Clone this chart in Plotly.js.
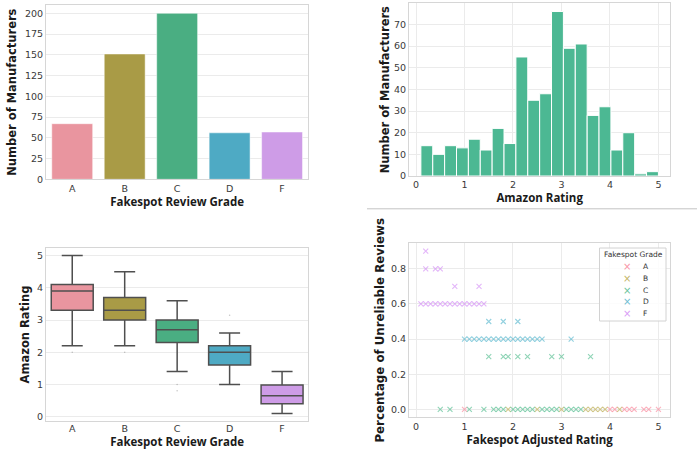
<!DOCTYPE html>
<html><head><meta charset="utf-8">
<script src="https://cdn.plot.ly/plotly-3.0.1.min.js"></script>
<style>html,body{margin:0;padding:0;background:#fff}#chart{width:697px;height:449px}</style>
</head><body><div id="chart"></div>
<script>
// ---------- data ----------
const grades = ['A', 'B', 'C', 'D', 'F'];
const gradeCounts = [67, 151, 200, 56, 57];

const ratingBinEdges = [0.1, 0.345, 0.59, 0.835, 1.08, 1.325, 1.57, 1.815, 2.06, 2.305, 2.55,
                        2.795, 3.04, 3.285, 3.53, 3.775, 4.02, 4.265, 4.51, 4.755, 5.0];
const ratingBinCounts = [14, 10, 14, 13, 17, 12, 22, 15, 55, 35, 38, 76, 59, 61, 28, 32, 12, 20, 1, 2];

const boxLowerFence = [2.2, 2.2, 1.4, 1.0, 0.1];
const boxQ1 = [3.3, 3.0, 2.3, 1.6, 0.4];
const boxMedian = [3.9, 3.3, 2.7, 2.0, 0.65];
const boxQ3 = [4.1, 3.7, 3.0, 2.2, 0.98];
const boxUpperFence = [5.0, 4.5, 3.6, 2.6, 1.4];
const flierGrades = ['A', 'B', 'C', 'C', 'D'];
const flierRatings = [2.0, 2.0, 1.0, 0.8, 3.15];

const adjA_x = [1.0, 4.0, 4.1, 4.3, 4.4, 4.5, 4.7, 4.8, 5.0];
const adjA_y = [0, 0, 0, 0, 0, 0, 0, 0, 0];
const adjB_x = [1.9, 2.5, 3.0, 3.5, 3.6, 3.7, 3.8, 3.9, 4.2];
const adjB_y = [0, 0, 0, 0, 0, 0, 0, 0, 0];
const adjC_x = [1.5, 1.8, 1.9, 2.1, 2.3, 2.8, 3.0, 3.6,
                0.5, 0.7, 1.1, 1.4, 1.6, 1.7, 1.8, 2.0, 2.1, 2.2, 2.3, 2.4, 2.6, 2.7, 2.8, 2.9, 3.1, 3.2, 3.3, 3.4];
const adjC_y = [0.3, 0.3, 0.3, 0.3, 0.3, 0.3, 0.3, 0.3,
                0, 0, 0, 0, 0, 0, 0, 0, 0, 0, 0, 0, 0, 0, 0, 0, 0, 0, 0, 0];
const adjD_x = [1.5, 1.8, 2.1,
                1.0, 1.1, 1.2, 1.3, 1.4, 1.5, 1.6, 1.7, 1.8, 1.9, 2.0, 2.1, 2.2, 2.3, 2.4, 2.5, 2.6, 3.2];
const adjD_y = [0.5, 0.5, 0.5,
                0.4, 0.4, 0.4, 0.4, 0.4, 0.4, 0.4, 0.4, 0.4, 0.4, 0.4, 0.4, 0.4, 0.4, 0.4, 0.4, 0.4, 0.4];
const adjF_x = [0.2, 0.2, 0.4, 0.5, 0.8, 1.3,
                0.1, 0.2, 0.3, 0.4, 0.5, 0.6, 0.7, 0.8, 0.9, 1.0, 1.1, 1.2, 1.3, 1.4];
const adjF_y = [0.9, 0.8, 0.8, 0.8, 0.7, 0.7,
                0.6, 0.6, 0.6, 0.6, 0.6, 0.6, 0.6, 0.6, 0.6, 0.6, 0.6, 0.6, 0.6, 0.6];

// ---------- styles ----------
const W = 697, H = 449;
const barColors = ['#e9959f', '#a99b46', '#4aae82', '#4eaac4', '#ce9ce7'];
const markColors = ['#f77189', '#ae9d31', '#33b07a', '#38a9c5', '#cc7af4'];
const histColor = '#4cb893';

function dom(a, b, size) { return [a / size, b / size]; }
function ydom(top, bottom) { return [1 - bottom / H, 1 - top / H]; }

const tickFont = {family: 'DejaVu Sans', size: 9.5, color: '#3a3a3a'};
const xTitleFont = {family: 'Open Sans', size: 11.5, color: '#1a1a1a', weight: 700};
const yTitleFont = {family: 'DejaVu Sans', size: 11.5, color: '#1a1a1a', weight: 700};
function axis(extra) {
  return Object.assign({
    showline: true, mirror: true, linecolor: '#d6d6d6', linewidth: 1,
    gridcolor: '#ebebeb', gridwidth: 1, zeroline: false, ticks: '',
    tickfont: tickFont, fixedrange: true, automargin: false
  }, extra);
}

const traces = [];
// top-left bars
traces.push({
  type: 'bar', x: grades, y: gradeCounts, width: 0.78,
  marker: {color: barColors, line: {color: '#ffffff', width: 0.5}},
  xaxis: 'x', yaxis: 'y', showlegend: false, hoverinfo: 'x+y'
});
// top-right histogram
const binCenters = [], binWidths = [];
for (let i = 0; i < ratingBinCounts.length; i++) {
  binCenters.push((ratingBinEdges[i] + ratingBinEdges[i + 1]) / 2);
  binWidths.push(ratingBinEdges[i + 1] - ratingBinEdges[i]);
}
traces.push({
  type: 'bar', x: binCenters, y: ratingBinCounts, width: binWidths,
  marker: {color: histColor, line: {color: '#ffffff', width: 1}},
  xaxis: 'x2', yaxis: 'y2', showlegend: false
});
// bottom-left boxes
grades.forEach((g, i) => {
  traces.push({
    type: 'box', x: [g], q1: [boxQ1[i]], median: [boxMedian[i]], q3: [boxQ3[i]],
    lowerfence: [boxLowerFence[i]], upperfence: [boxUpperFence[i]],
    width: 0.8, whiskerwidth: 0.5, fillcolor: barColors[i],
    line: {color: '#4f4f4f', width: 1.5}, boxpoints: false,
    xaxis: 'x3', yaxis: 'y3', showlegend: false, name: g
  });
});
traces.push({
  type: 'scatter', mode: 'markers', x: flierGrades, y: flierRatings,
  marker: {size: 1.5, color: 'rgba(90,90,90,0.35)'},
  xaxis: 'x3', yaxis: 'y3', showlegend: false, hoverinfo: 'skip'
});
// bottom-right scatter
const adjX = [adjA_x, adjB_x, adjC_x, adjD_x, adjF_x];
const adjY = [adjA_y, adjB_y, adjC_y, adjD_y, adjF_y];
grades.forEach((g, i) => {
  traces.push({
    type: 'scatter', mode: 'markers', x: adjX[i], y: adjY[i], name: g,
    marker: {symbol: 'x-thin-open', size: 5, opacity: 0.55, color: markColors[i],
             line: {color: markColors[i], width: 1.1}},
    xaxis: 'x4', yaxis: 'y4', showlegend: false
  });
});

// legend (drawn as annotations)
const legX0 = 599.5, legX1 = 666, legY0 = 248, legY1 = 321;
const annotations = [{
  text: 'Fakespot Grade', xref: 'paper', yref: 'paper', x: 633 / W, y: 1 - 254.5 / H,
  showarrow: false, xanchor: 'center', yanchor: 'middle',
  font: {family: 'DejaVu Sans', size: 7.5, color: '#333'}
}];
const legRows = [266.7, 278.3, 290, 301.7, 313.3];
grades.forEach((g, i) => {
  annotations.push({
    text: '\u00d7', xref: 'paper', yref: 'paper', x: 627.3 / W, y: 1 - legRows[i] / H,
    showarrow: false, xanchor: 'center', yanchor: 'middle',
    font: {family: 'DejaVu Sans', size: 10, color: markColors[i]}, opacity: 0.75
  });
  annotations.push({
    text: g, xref: 'paper', yref: 'paper', x: 640.5 / W, y: 1 - legRows[i] / H,
    showarrow: false, xanchor: 'left', yanchor: 'middle',
    font: {family: 'DejaVu Sans', size: 7.5, color: '#333'}
  });
});

const layout = {
  width: W, height: H, margin: {l: 0, r: 0, t: 0, b: 0},
  paper_bgcolor: '#ffffff', plot_bgcolor: '#ffffff', showlegend: false,
  boxmode: 'overlay', bargap: 0,
  xaxis: axis({domain: dom(46, 308.3, W), anchor: 'y', type: 'category',
    range: [-0.5, 4.5], showgrid: false,
    title: {text: 'Fakespot Review Grade', font: xTitleFont, standoff: 2}}),
  yaxis: axis({domain: ydom(5, 179.3), anchor: 'x', range: [0, 210],
    tickvals: [0, 25, 50, 75, 100, 125, 150, 175, 200],
    title: {text: 'Number of Manufacturers', font: yTitleFont, standoff: 5}}),
  xaxis2: axis({domain: dom(409, 670.3, W), anchor: 'y2', range: [-0.145, 5.245],
    tickvals: [0, 1, 2, 3, 4, 5],
    title: {text: 'Amazon Rating', font: xTitleFont, standoff: 2}}),
  yaxis2: axis({domain: ydom(3.3, 176), anchor: 'x2', range: [0, 79.8],
    tickvals: [0, 10, 20, 30, 40, 50, 60, 70],
    title: {text: 'Number of Manufacturers', font: yTitleFont, standoff: 1}}),
  xaxis3: axis({domain: dom(46, 308.3, W), anchor: 'y3', type: 'category',
    range: [-0.5, 4.5], showgrid: false, categoryarray: grades, ticklabelstandoff: -2,
    title: {text: 'Fakespot Review Grade', font: xTitleFont, standoff: 7}}),
  yaxis3: axis({domain: ydom(247.7, 421.3), anchor: 'x3', range: [-0.145, 5.245],
    tickvals: [0, 1, 2, 3, 4, 5],
    title: {text: 'Amazon Rating', font: yTitleFont, standoff: 5}}),
  xaxis4: axis({domain: dom(409, 670.3, W), anchor: 'y4', range: [-0.145, 5.245],
    tickvals: [0, 1, 2, 3, 4, 5],
    title: {text: 'Fakespot Adjusted Rating', font: xTitleFont, standoff: 2}}),
  yaxis4: axis({domain: ydom(243.3, 417.3), anchor: 'x4', range: [-0.045, 0.945],
    tickvals: [0, 0.2, 0.4, 0.6, 0.8], ticktext: ['0.0', '0.2', '0.4', '0.6', '0.8'],
    title: {text: 'Percentage of Unreliable Reviews', font: Object.assign({}, yTitleFont, {size: 11.8}), standoff: 3}}),
  shapes: [
    {type: 'line', xref: 'paper', yref: 'paper', x0: 367 / W, x1: 1, y0: 1 - 208.8 / H, y1: 1 - 208.8 / H,
     line: {color: '#c4c4c4', width: 1}, layer: 'above'},
    {type: 'rect', xref: 'paper', yref: 'paper', x0: legX0 / W, x1: legX1 / W, y0: 1 - legY1 / H, y1: 1 - legY0 / H,
     line: {color: '#d2d2d2', width: 1}, fillcolor: 'rgba(255,255,255,0.85)', layer: 'above'}
  ],
  annotations: annotations
};

Plotly.newPlot('chart', traces, layout, {displayModeBar: false, staticPlot: true});
</script>
</body></html>
